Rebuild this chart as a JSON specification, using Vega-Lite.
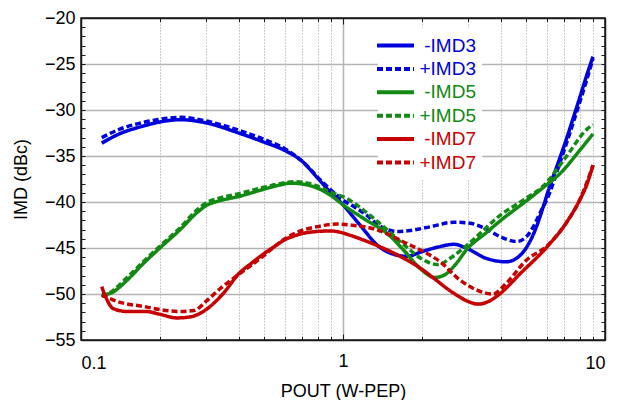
{
  "$schema": "https://vega.github.io/schema/vega-lite/v6.json",
  "width": 524,
  "height": 322,
  "autosize": "none",
  "padding": {"left": 81, "top": 18, "right": 12, "bottom": 60},
  "background": "white",
  "config": {
    "font": "Liberation Sans",
    "view": {"stroke": "#1a1a1a", "strokeWidth": 1.5},
    "axis": {"domainColor": "#1a1a1a", "domainWidth": 1.5, "tickColor": "#1a1a1a", "labelColor": "black", "titleColor": "black", "labelFontSize": 18, "titleFontSize": 18, "titleFontWeight": "normal", "labelFont": "Liberation Sans", "titleFont": "Liberation Sans"}
  },
  "data": {"values": [
    {"s": "-IMD3", "p": 0.12, "v": -33.6}, {"s": "-IMD3", "p": 0.14, "v": -32.6}, {"s": "-IMD3", "p": 0.17, "v": -31.8}, {"s": "-IMD3", "p": 0.2, "v": -31.3}, {"s": "-IMD3", "p": 0.24, "v": -31.05}, {"s": "-IMD3", "p": 0.3, "v": -31.4}, {"s": "-IMD3", "p": 0.4, "v": -32.5}, {"s": "-IMD3", "p": 0.5, "v": -33.5}, {"s": "-IMD3", "p": 0.6, "v": -34.4}, {"s": "-IMD3", "p": 0.7, "v": -35.6}, {"s": "-IMD3", "p": 0.8, "v": -37.4}, {"s": "-IMD3", "p": 0.9, "v": -39.0}, {"s": "-IMD3", "p": 1.0, "v": -40.3}, {"s": "-IMD3", "p": 1.1, "v": -41.7}, {"s": "-IMD3", "p": 1.2, "v": -43.0}, {"s": "-IMD3", "p": 1.34, "v": -44.6}, {"s": "-IMD3", "p": 1.5, "v": -45.5}, {"s": "-IMD3", "p": 1.75, "v": -45.9}, {"s": "-IMD3", "p": 2.0, "v": -45.4}, {"s": "-IMD3", "p": 2.3, "v": -44.9}, {"s": "-IMD3", "p": 2.65, "v": -44.6}, {"s": "-IMD3", "p": 3.0, "v": -45.1}, {"s": "-IMD3", "p": 3.5, "v": -46.1}, {"s": "-IMD3", "p": 4.2, "v": -46.5}, {"s": "-IMD3", "p": 4.7, "v": -45.9}, {"s": "-IMD3", "p": 5.0, "v": -45.0}, {"s": "-IMD3", "p": 5.35, "v": -43.4}, {"s": "-IMD3", "p": 5.8, "v": -40.6}, {"s": "-IMD3", "p": 6.1, "v": -38.6}, {"s": "-IMD3", "p": 6.5, "v": -36.4}, {"s": "-IMD3", "p": 7.0, "v": -33.8}, {"s": "-IMD3", "p": 7.5, "v": -31.2}, {"s": "-IMD3", "p": 8.0, "v": -28.7}, {"s": "-IMD3", "p": 8.5, "v": -26.3}, {"s": "-IMD3", "p": 9.0, "v": -24.2},
    {"s": "+IMD3", "p": 0.12, "v": -33.0}, {"s": "+IMD3", "p": 0.14, "v": -32.1}, {"s": "+IMD3", "p": 0.17, "v": -31.4}, {"s": "+IMD3", "p": 0.2, "v": -31.0}, {"s": "+IMD3", "p": 0.24, "v": -30.8}, {"s": "+IMD3", "p": 0.3, "v": -31.2}, {"s": "+IMD3", "p": 0.4, "v": -32.2}, {"s": "+IMD3", "p": 0.5, "v": -33.2}, {"s": "+IMD3", "p": 0.6, "v": -34.2}, {"s": "+IMD3", "p": 0.7, "v": -35.6}, {"s": "+IMD3", "p": 0.82, "v": -37.6}, {"s": "+IMD3", "p": 0.9, "v": -38.7}, {"s": "+IMD3", "p": 1.0, "v": -39.8}, {"s": "+IMD3", "p": 1.1, "v": -40.5}, {"s": "+IMD3", "p": 1.2, "v": -41.2}, {"s": "+IMD3", "p": 1.42, "v": -42.8}, {"s": "+IMD3", "p": 1.6, "v": -43.2}, {"s": "+IMD3", "p": 1.8, "v": -43.1}, {"s": "+IMD3", "p": 2.15, "v": -42.7}, {"s": "+IMD3", "p": 2.65, "v": -42.2}, {"s": "+IMD3", "p": 3.05, "v": -42.3}, {"s": "+IMD3", "p": 3.5, "v": -42.9}, {"s": "+IMD3", "p": 4.0, "v": -43.8}, {"s": "+IMD3", "p": 4.6, "v": -44.3}, {"s": "+IMD3", "p": 5.0, "v": -43.8}, {"s": "+IMD3", "p": 5.3, "v": -42.8}, {"s": "+IMD3", "p": 5.65, "v": -41.2}, {"s": "+IMD3", "p": 6.17, "v": -38.9}, {"s": "+IMD3", "p": 6.5, "v": -37.0}, {"s": "+IMD3", "p": 7.0, "v": -34.3}, {"s": "+IMD3", "p": 7.5, "v": -31.7}, {"s": "+IMD3", "p": 8.0, "v": -29.2}, {"s": "+IMD3", "p": 8.5, "v": -26.8}, {"s": "+IMD3", "p": 9.0, "v": -24.4},
    {"s": "-IMD5", "p": 0.12, "v": -50.1}, {"s": "-IMD5", "p": 0.13, "v": -49.9}, {"s": "-IMD5", "p": 0.15, "v": -48.5}, {"s": "-IMD5", "p": 0.17, "v": -46.9}, {"s": "-IMD5", "p": 0.2, "v": -45.0}, {"s": "-IMD5", "p": 0.239, "v": -43.0}, {"s": "-IMD5", "p": 0.276, "v": -41.2}, {"s": "-IMD5", "p": 0.3, "v": -40.4}, {"s": "-IMD5", "p": 0.34, "v": -39.85}, {"s": "-IMD5", "p": 0.4, "v": -39.4}, {"s": "-IMD5", "p": 0.5, "v": -38.6}, {"s": "-IMD5", "p": 0.575, "v": -38.15}, {"s": "-IMD5", "p": 0.63, "v": -37.95}, {"s": "-IMD5", "p": 0.7, "v": -38.05}, {"s": "-IMD5", "p": 0.8, "v": -38.5}, {"s": "-IMD5", "p": 0.9, "v": -39.3}, {"s": "-IMD5", "p": 1.0, "v": -40.3}, {"s": "-IMD5", "p": 1.2, "v": -41.8}, {"s": "-IMD5", "p": 1.5, "v": -43.6}, {"s": "-IMD5", "p": 1.7, "v": -45.2}, {"s": "-IMD5", "p": 2.0, "v": -47.4}, {"s": "-IMD5", "p": 2.24, "v": -48.2}, {"s": "-IMD5", "p": 2.45, "v": -47.9}, {"s": "-IMD5", "p": 2.65, "v": -47.0}, {"s": "-IMD5", "p": 3.0, "v": -45.0}, {"s": "-IMD5", "p": 3.5, "v": -43.4}, {"s": "-IMD5", "p": 4.0, "v": -42.0}, {"s": "-IMD5", "p": 5.0, "v": -39.9}, {"s": "-IMD5", "p": 5.65, "v": -38.7}, {"s": "-IMD5", "p": 6.9, "v": -36.6}, {"s": "-IMD5", "p": 8.0, "v": -34.4}, {"s": "-IMD5", "p": 9.0, "v": -32.6},
    {"s": "+IMD5", "p": 0.12, "v": -50.3}, {"s": "+IMD5", "p": 0.13, "v": -49.8}, {"s": "+IMD5", "p": 0.15, "v": -48.2}, {"s": "+IMD5", "p": 0.17, "v": -46.7}, {"s": "+IMD5", "p": 0.2, "v": -44.8}, {"s": "+IMD5", "p": 0.239, "v": -42.8}, {"s": "+IMD5", "p": 0.276, "v": -40.9}, {"s": "+IMD5", "p": 0.3, "v": -40.1}, {"s": "+IMD5", "p": 0.34, "v": -39.55}, {"s": "+IMD5", "p": 0.4, "v": -39.1}, {"s": "+IMD5", "p": 0.5, "v": -38.4}, {"s": "+IMD5", "p": 0.575, "v": -38.0}, {"s": "+IMD5", "p": 0.65, "v": -37.8}, {"s": "+IMD5", "p": 0.75, "v": -38.0}, {"s": "+IMD5", "p": 0.89, "v": -38.9}, {"s": "+IMD5", "p": 1.03, "v": -39.6}, {"s": "+IMD5", "p": 1.2, "v": -40.9}, {"s": "+IMD5", "p": 1.43, "v": -42.7}, {"s": "+IMD5", "p": 1.75, "v": -44.9}, {"s": "+IMD5", "p": 2.0, "v": -46.2}, {"s": "+IMD5", "p": 2.3, "v": -46.8}, {"s": "+IMD5", "p": 2.6, "v": -46.0}, {"s": "+IMD5", "p": 3.0, "v": -44.6}, {"s": "+IMD5", "p": 4.0, "v": -41.4}, {"s": "+IMD5", "p": 5.0, "v": -39.6}, {"s": "+IMD5", "p": 5.8, "v": -38.3}, {"s": "+IMD5", "p": 7.1, "v": -35.1}, {"s": "+IMD5", "p": 8.6, "v": -32.0}, {"s": "+IMD5", "p": 9.0, "v": -31.6},
    {"s": "-IMD7", "p": 0.12, "v": -49.2}, {"s": "-IMD7", "p": 0.125, "v": -50.5}, {"s": "-IMD7", "p": 0.133, "v": -51.6}, {"s": "-IMD7", "p": 0.15, "v": -51.9}, {"s": "-IMD7", "p": 0.177, "v": -51.9}, {"s": "-IMD7", "p": 0.2, "v": -52.2}, {"s": "-IMD7", "p": 0.232, "v": -52.6}, {"s": "-IMD7", "p": 0.26, "v": -52.5}, {"s": "-IMD7", "p": 0.3, "v": -51.7}, {"s": "-IMD7", "p": 0.35, "v": -49.9}, {"s": "-IMD7", "p": 0.4, "v": -47.8}, {"s": "-IMD7", "p": 0.45, "v": -46.6}, {"s": "-IMD7", "p": 0.5, "v": -45.6}, {"s": "-IMD7", "p": 0.55, "v": -44.8}, {"s": "-IMD7", "p": 0.6, "v": -44.1}, {"s": "-IMD7", "p": 0.65, "v": -43.7}, {"s": "-IMD7", "p": 0.72, "v": -43.35}, {"s": "-IMD7", "p": 0.8, "v": -43.2}, {"s": "-IMD7", "p": 0.9, "v": -43.15}, {"s": "-IMD7", "p": 0.98, "v": -43.3}, {"s": "-IMD7", "p": 1.06, "v": -43.6}, {"s": "-IMD7", "p": 1.34, "v": -44.7}, {"s": "-IMD7", "p": 1.65, "v": -45.9}, {"s": "-IMD7", "p": 2.0, "v": -47.3}, {"s": "-IMD7", "p": 2.2, "v": -48.2}, {"s": "-IMD7", "p": 2.64, "v": -49.9}, {"s": "-IMD7", "p": 3.0, "v": -50.8}, {"s": "-IMD7", "p": 3.28, "v": -51.1}, {"s": "-IMD7", "p": 3.6, "v": -50.8}, {"s": "-IMD7", "p": 4.0, "v": -49.9}, {"s": "-IMD7", "p": 4.74, "v": -47.8}, {"s": "-IMD7", "p": 6.0, "v": -44.9}, {"s": "-IMD7", "p": 7.1, "v": -42.3}, {"s": "-IMD7", "p": 8.0, "v": -39.8}, {"s": "-IMD7", "p": 8.5, "v": -38.2}, {"s": "-IMD7", "p": 9.0, "v": -36.0},
    {"s": "+IMD7", "p": 0.12, "v": -50.1}, {"s": "+IMD7", "p": 0.137, "v": -50.8}, {"s": "+IMD7", "p": 0.177, "v": -51.4}, {"s": "+IMD7", "p": 0.2, "v": -51.7}, {"s": "+IMD7", "p": 0.24, "v": -51.9}, {"s": "+IMD7", "p": 0.27, "v": -51.8}, {"s": "+IMD7", "p": 0.3, "v": -50.8}, {"s": "+IMD7", "p": 0.34, "v": -49.4}, {"s": "+IMD7", "p": 0.39, "v": -48.1}, {"s": "+IMD7", "p": 0.45, "v": -46.8}, {"s": "+IMD7", "p": 0.5, "v": -45.8}, {"s": "+IMD7", "p": 0.55, "v": -44.8}, {"s": "+IMD7", "p": 0.6, "v": -44.0}, {"s": "+IMD7", "p": 0.68, "v": -43.2}, {"s": "+IMD7", "p": 0.79, "v": -42.7}, {"s": "+IMD7", "p": 0.95, "v": -42.4}, {"s": "+IMD7", "p": 1.06, "v": -42.5}, {"s": "+IMD7", "p": 1.34, "v": -43.0}, {"s": "+IMD7", "p": 1.51, "v": -43.6}, {"s": "+IMD7", "p": 1.75, "v": -44.5}, {"s": "+IMD7", "p": 2.0, "v": -45.3}, {"s": "+IMD7", "p": 2.35, "v": -46.5}, {"s": "+IMD7", "p": 2.8, "v": -48.5}, {"s": "+IMD7", "p": 3.33, "v": -49.7}, {"s": "+IMD7", "p": 3.74, "v": -50.0}, {"s": "+IMD7", "p": 4.21, "v": -48.8}, {"s": "+IMD7", "p": 5.02, "v": -46.3}, {"s": "+IMD7", "p": 6.0, "v": -44.8}, {"s": "+IMD7", "p": 7.1, "v": -42.3}, {"s": "+IMD7", "p": 8.0, "v": -39.8}, {"s": "+IMD7", "p": 9.0, "v": -36.0}
  ]},
  "layer": [
    {
      "mark": {"type": "line", "strokeOpacity": 0, "interpolate": "monotone"},
      "encoding": {
        "x": {"field": "p", "type": "quantitative", "scale": {"type": "log", "domain": [0.1, 10], "nice": false},
          "axis": {"orient": "top", "values": [0.1,0.2,0.3,0.4,0.5,0.6,0.7,0.8,0.9,1,2,3,4,5,6,7,8,9,10], "labels": false, "grid": false, "title": null,
            "tickSize": {"condition": {"test": "datum.value==1", "value": -6}, "value": -3.5}}},
        "y": {"field": "v", "type": "quantitative", "scale": {"domain": [-55, -20], "nice": false, "zero": false},
          "axis": {"orient": "right", "values": [-55,-54,-53,-52,-51,-50,-49,-48,-47,-46,-45,-44,-43,-42,-41,-40,-39,-38,-37,-36,-35,-34,-33,-32,-31,-30,-29,-28,-27,-26,-25,-24,-23,-22,-21,-20], "labels": false, "grid": false, "title": null, "tickSize": -4}},
        "detail": {"field": "s"}
      }
    },
    {
      "mark": {"type": "line", "strokeWidth": 3.5, "interpolate": "monotone", "strokeCap": "butt"},
      "encoding": {
        "x": {"field": "p", "type": "quantitative", "scale": {"type": "log", "domain": [0.1, 10], "nice": false},
          "axis": {"orient": "bottom", "values": [0.1,0.2,0.3,0.4,0.5,0.6,0.7,0.8,0.9,1,2,3,4,5,6,7,8,9,10], "format": "~g",
            "labelExpr": "(datum.value==0.1||datum.value==1||datum.value==10)?datum.label:''",
            "grid": true,
            "gridColor": {"condition": {"test": "datum.value==1", "value": "#b4b4b4"}, "value": "#9a9a9a"},
            "gridDash": {"condition": {"test": "datum.value==1", "value": [1, 0]}, "value": [1, 2]},
            "gridWidth": {"condition": {"test": "datum.value==1", "value": 1.5}, "value": 1},
            "tickSize": {"condition": {"test": "datum.value==1", "value": -6}, "value": -3.5},
            "labelPadding": 18,
            "title": "POUT (W-PEP)", "titlePadding": 10}},
        "y": {"field": "v", "type": "quantitative", "scale": {"domain": [-55, -20], "nice": false, "zero": false},
          "axis": {"orient": "left", "values": [-55,-54,-53,-52,-51,-50,-49,-48,-47,-46,-45,-44,-43,-42,-41,-40,-39,-38,-37,-36,-35,-34,-33,-32,-31,-30,-29,-28,-27,-26,-25,-24,-23,-22,-21,-20],
            "labelExpr": "datum.value%5==0?datum.label:''",
            "grid": true, "gridColor": "#b4b4b4", "gridWidth": 1.5,
            "gridOpacity": {"condition": {"test": "datum.value%5==0 && datum.value>-55 && datum.value<-20", "value": 1}, "value": 0},
            "tickSize": -4, "labelPadding": 10,
            "title": "IMD (dBc)", "titlePadding": 14}},
        "color": {"field": "s", "type": "nominal",
          "scale": {"domain": ["-IMD3", "+IMD3", "-IMD5", "+IMD5", "-IMD7", "+IMD7"], "range": ["#0000dc", "#0000dc", "#138a13", "#138a13", "#c60000", "#c60000"]},
          "legend": {"title": null, "orient": "none", "legendX": 297, "legendY": 10, "symbolType": "M-2,0H2", "symbolSize": 342, "symbolStrokeWidth": 4, "labelFontSize": 19, "labelFont": "Liberation Sans", "labelAlign": "right", "labelOffset": 69, "fillColor": "white", "padding": 6, "rowPadding": 1.4,
            "encode": {"labels": {"update": {"fill": {"signal": "scale('color', datum.value)"}}}}}},
        "strokeDash": {"field": "s", "type": "nominal",
          "scale": {"domain": ["-IMD3", "+IMD3", "-IMD5", "+IMD5", "-IMD7", "+IMD7"], "range": [[1, 0], [6, 3], [1, 0], [6, 3], [1, 0], [6, 3]]},
          "legend": {"title": null, "orient": "none", "legendX": 297, "legendY": 10, "symbolType": "M-2,0H2", "symbolSize": 342, "symbolStrokeWidth": 4, "labelFontSize": 19, "labelFont": "Liberation Sans", "labelAlign": "right", "labelOffset": 69, "fillColor": "white", "padding": 6, "rowPadding": 1.4,
            "encode": {"labels": {"update": {"fill": {"signal": "scale('color', datum.value)"}}}}}}
      }
    }
  ],
  "resolve": {"axis": {"x": "independent", "y": "independent"}}
}
